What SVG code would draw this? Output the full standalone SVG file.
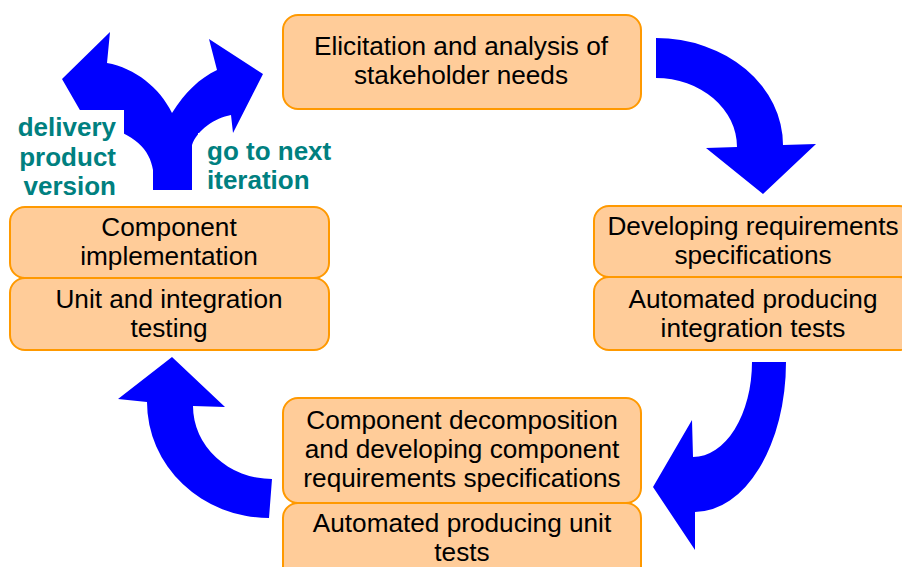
<svg xmlns="http://www.w3.org/2000/svg" width="902" height="567" viewBox="0 0 902 567">
<style>
.box{fill:#FFCC99;stroke:#FF9900;stroke-width:2}
.t{font-family:"Liberation Sans",Arial,sans-serif;font-size:26.2px;fill:#000;text-anchor:middle}
.lbl{font-family:"Liberation Sans",Arial,sans-serif;font-size:26px;font-weight:bold;fill:#008080}
.arr{fill:#0000FF}
</style>
<rect width="902" height="567" fill="#fff"/>
<g id="connectors">
<path class="arr" d="M656,38 A127,107 0 0 1 783,145 L816,144 L763,194 L706,148 L737,147 A81,69 0 0 0 656,78 Z"/>
<path class="arr" d="M752,362 A59,95 0 0 1 693,457 L692,420 L653,487 L695,550 L695,512 A91,150 0 0 0 786,362 Z"/>
<path class="arr" d="M272,479 A79,73 0 0 1 193,406 L225,407 L172,357 L118,399 L147,402 A122,116 0 0 0 269,518 Z"/>
<path class="arr" d="M153,190 L153,170 C150,150 135,133 98,125 L96,138 L62,79 L110,32 L107,63 C135,68 160,88 172,113 C185,92 200,78 217,70 L209,39 L263,74 L233,133 L231,115 C215,118 197,130 192,145 L192,190 Z"/>
</g>
<g id="label-delivery">
<rect x="0" y="110" width="124" height="95" fill="#fff"/>
<text class="lbl" x="116" y="136" text-anchor="end">delivery</text>
<text class="lbl" x="116" y="166" text-anchor="end">product</text>
<text class="lbl" x="116" y="195" text-anchor="end">version</text>
</g>
<g id="label-next">
<rect x="198" y="133" width="152" height="72" fill="#fff"/>
<text class="lbl" x="207" y="160">go to next</text>
<text class="lbl" x="207" y="189">iteration</text>
</g>
<g id="n-elicitation">
<rect class="box" x="283" y="15" width="358" height="94" rx="15"/>
<text class="t" x="461" y="55">Elicitation and analysis of</text>
<text class="t" x="461" y="84">stakeholder needs</text>
</g>
<g id="n-devreq">
<rect class="box" x="594" y="206" width="320" height="71" rx="15"/>
<text class="t" x="753" y="235">Developing requirements</text>
<text class="t" x="753" y="264">specifications</text>
</g>
<g id="n-autoint">
<rect class="box" x="594" y="277" width="320" height="73" rx="15"/>
<text class="t" x="753" y="308">Automated producing</text>
<text class="t" x="753" y="337">integration tests</text>
</g>
<g id="n-decomp">
<rect class="box" x="283" y="398" width="358" height="105" rx="15"/>
<text class="t" x="462" y="429">Component decomposition</text>
<text class="t" x="462" y="458">and developing component</text>
<text class="t" x="462" y="487">requirements specifications</text>
</g>
<g id="n-autounit">
<rect class="box" x="283" y="503" width="358" height="80" rx="15"/>
<text class="t" x="462" y="532">Automated producing unit</text>
<text class="t" x="462" y="561">tests</text>
</g>
<g id="n-impl">
<rect class="box" x="10" y="207" width="319" height="71" rx="15"/>
<text class="t" x="169" y="236">Component</text>
<text class="t" x="169" y="265">implementation</text>
</g>
<g id="n-unittest">
<rect class="box" x="10" y="278" width="319" height="72" rx="15"/>
<text class="t" x="169" y="308">Unit and integration</text>
<text class="t" x="169" y="337">testing</text>
</g>
</svg>
